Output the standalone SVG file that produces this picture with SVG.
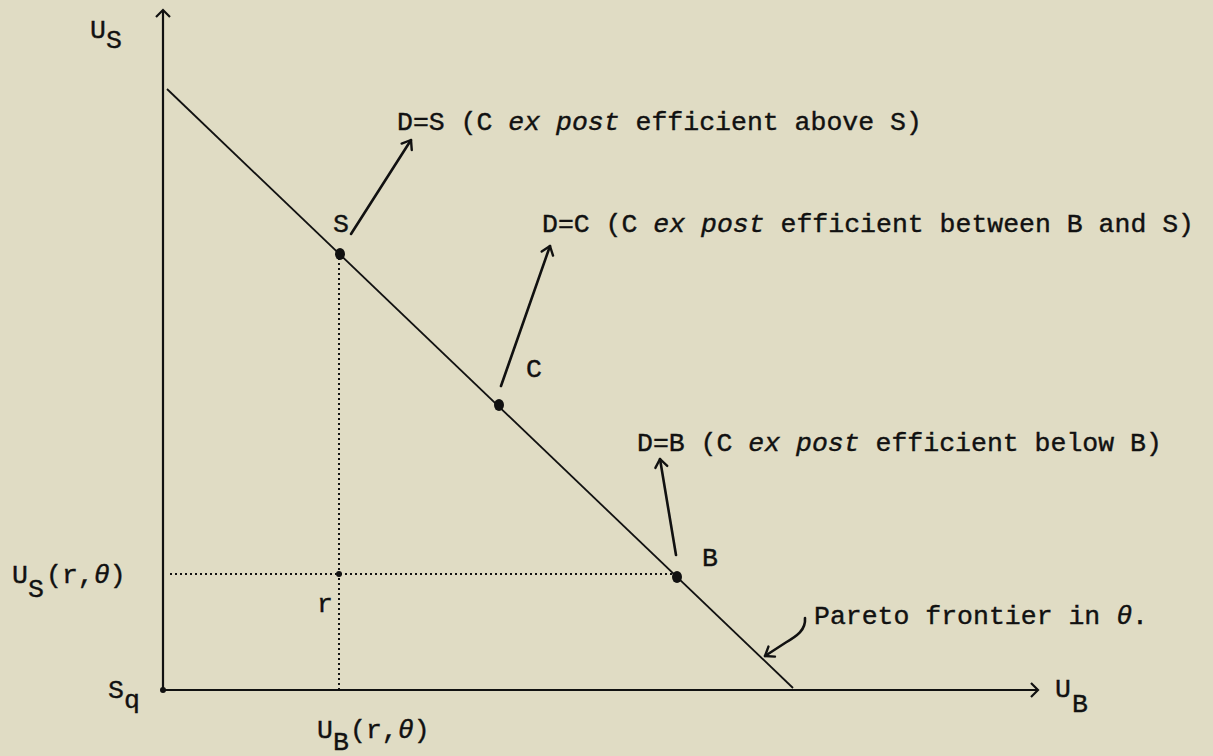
<svg xmlns="http://www.w3.org/2000/svg" width="1213" height="756" viewBox="0 0 1213 756">
<style>
text{font-family:"Liberation Mono","DejaVu Sans Mono",monospace;font-size:26.5px;fill:#111;stroke:#111;stroke-width:0.4}
.it{font-style:italic}
.ax{stroke:#111;stroke-width:2.2;fill:none}
.fr{stroke:#111;stroke-width:1.8;fill:none}
.ar{stroke:#111;stroke-width:2.6;fill:none;stroke-linecap:round}
.dot{stroke:#111;stroke-width:2;fill:none;stroke-dasharray:2 3}
</style>
<defs>
<marker id="chev" viewBox="-10 -8 12 16" markerWidth="12" markerHeight="16" refX="0" refY="0" orient="auto" markerUnits="userSpaceOnUse">
<polyline points="-8,-6 0,0 -8,6" fill="none" stroke="#111" stroke-width="2.4" stroke-linecap="round" stroke-linejoin="round"/>
</marker>
</defs>
<rect width="1213" height="756" fill="#e0dcc4"/>
<g id="axes">
<line class="ax" x1="163" y1="691" x2="163" y2="11"/>
<polyline class="ax" points="156,17 163,10 170,17"/>
<line class="ax" x1="162" y1="690" x2="1037" y2="690"/>
<polyline class="ax" points="1031,683 1038,690 1031,697"/>
<circle cx="163" cy="690" r="3" fill="#111"/>
</g>
<g id="frontier">
<line class="fr" x1="167" y1="89" x2="793" y2="688"/>
</g>
<g id="guides">
<line class="dot" x1="339" y1="258" x2="339" y2="689"/>
<line class="dot" x1="170" y1="574" x2="672" y2="574"/>
<circle cx="339" cy="574" r="3" fill="#111"/>
</g>
<g id="node-S">
<ellipse cx="340" cy="254" rx="5" ry="6" fill="#111"/>
<text x="333" y="232">S</text>
</g>
<g id="node-C">
<ellipse cx="499" cy="405" rx="5" ry="6" fill="#111"/>
<text x="526" y="377">C</text>
</g>
<g id="node-B">
<ellipse cx="677" cy="577" rx="5" ry="6" fill="#111"/>
<text x="702" y="566">B</text>
</g>
<g id="connectors">
<line class="ar" x1="351" y1="234" x2="411" y2="140" marker-end="url(#chev)"/>
<line class="ar" x1="501" y1="386" x2="550" y2="246" marker-end="url(#chev)"/>
<line class="ar" x1="676" y1="555" x2="660" y2="459" marker-end="url(#chev)"/>
<path class="ar" d="M805,618 C806,630 797,636 785,643 L765,656" marker-end="url(#chev)"/>
</g>
<g id="labels">
<text x="397" y="130">D=S (C <tspan class="it">ex post</tspan> efficient above S)</text>
<text x="542" y="232">D=C (C <tspan class="it">ex post</tspan> efficient between B and S)</text>
<text x="637" y="451">D=B (C <tspan class="it">ex post</tspan> efficient below B)</text>
<text x="814" y="624">Pareto frontier in <tspan class="it">θ</tspan>.</text>
<text x="90" y="38">U</text><text x="106" y="48">S</text>
<text x="12" y="583">U</text><text x="28" y="597">S</text><text x="46" y="583">(r,<tspan class="it">θ</tspan>)</text>
<text x="108" y="698">S</text><text x="124" y="708">q</text>
<text x="317" y="612">r</text>
<text x="317" y="738">U</text><text x="333" y="750">B</text><text x="350" y="738">(r,<tspan class="it">θ</tspan>)</text>
<text x="1055" y="697">U</text><text x="1072" y="712">B</text>
</g>
</svg>
